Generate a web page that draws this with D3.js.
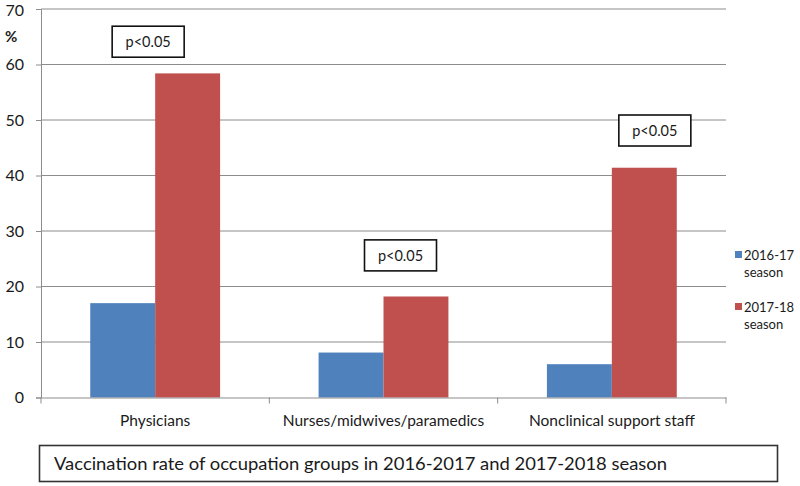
<!DOCTYPE html>
<html>
<head>
<meta charset="utf-8">
<script src="https://cdn.jsdelivr.net/npm/d3@7"></script>
<style>
  body { margin: 0; background: #fff; }
  text { font-family: Lato, "Open Sans", sans-serif; fill: #1a1a1a; }
</style>
</head>
<body>
<svg id="chart" width="800" height="486"></svg>
<script>
// data
const categories = ["Physicians", "Nurses/midwives/paramedics", "Nonclinical support staff"];
const seasons = ["2016-17 season", "2017-18 season"];
const values1617 = [17.0, 8.1, 6.0];
const values1718 = [58.4, 18.2, 41.4];
const yTicks = [0, 10, 20, 30, 40, 50, 60, 70];
const pLabels = ["p<0.05", "p<0.05", "p<0.05"];
// top of each p box, in data units
const pLevels = [66.9, 28.4, 50.9];
// box left relative to the red bar's left edge
const pShift = [-43, -19, 7];

const colors = ["#4F81BD", "#C0504D"];

const svg = d3.select("#chart");
const plotLeft = 41, plotRight = 726, plotTop = 9, plotBottom = 397.5;

const x = d3.scaleBand().domain(categories).range([plotLeft, plotRight]).paddingInner(0).paddingOuter(0);
const x1 = d3.scaleBand().domain(seasons).range([0, x.bandwidth()]).paddingInner(0).paddingOuter(0.7585);
const y = d3.scaleLinear().domain([0, 70]).range([plotBottom, plotTop]);

// gridlines
svg.append("g")
  .selectAll("line")
  .data(yTicks.filter(d => d > 0))
  .enter().append("line")
  .attr("x1", plotLeft).attr("x2", plotRight)
  .attr("y1", d => y(d)).attr("y2", d => y(d))
  .attr("stroke", "#8c8c8c").attr("stroke-width", 1);

// y axis
const yAxis = svg.append("g")
  .attr("transform", `translate(${plotLeft},0)`)
  .call(d3.axisLeft(y).tickValues(yTicks).tickSize(5).tickPadding(12));
yAxis.select(".domain").attr("stroke", "#8c8c8c");
yAxis.selectAll(".tick line").attr("stroke", "#8c8c8c");
yAxis.selectAll(".tick text")
  .style("font-size", "16px").attr("fill", "#1a1a1a")
  .style("font-family", "Lato, sans-serif");
yAxis.selectAll(".tick").filter(d => d === 70).select("text").attr("dy", "0.42em");

svg.append("text")
  .attr("x", 5).attr("y", 42)
  .style("font-size", "15px").style("font-weight", "bold")
  .text("%");

// bars
const groups = svg.append("g")
  .selectAll("g")
  .data(categories.map((c, i) => ({ c, v: [values1617[i], values1718[i]] })))
  .enter().append("g")
  .attr("transform", d => `translate(${x(d.c)},0)`);

groups.selectAll("rect")
  .data(d => d.v.map((v, j) => ({ s: seasons[j], v, j })))
  .enter().append("rect")
  .attr("x", d => x1(d.s))
  .attr("width", x1.bandwidth())
  .attr("y", d => y(d.v))
  .attr("height", d => plotBottom - y(d.v))
  .attr("fill", d => colors[d.j]);

// x axis
const xAxis = svg.append("g")
  .attr("transform", `translate(0,${plotBottom})`)
  .call(d3.axisBottom(x).tickSize(0).tickPadding(17));
xAxis.select(".domain").attr("stroke", "#8c8c8c");
xAxis.selectAll(".tick text")
  .style("font-size", "15.5px").attr("fill", "#1a1a1a")
  .style("font-family", "Lato, sans-serif");
// separator ticks between categories
svg.append("g")
  .selectAll("line")
  .data(d3.range(categories.length + 1))
  .enter().append("line")
  .attr("x1", i => plotLeft + i * x.step()).attr("x2", i => plotLeft + i * x.step())
  .attr("y1", plotBottom).attr("y2", plotBottom + 6)
  .attr("stroke", "#8c8c8c");

// p-value boxes
const pb = svg.append("g")
  .selectAll("g")
  .data(categories.map((c, i) => ({ c, t: pLabels[i], lv: pLevels[i], i })))
  .enter().append("g")
  .attr("transform", d => `translate(${x(d.c) + x1(seasons[1]) + pShift[d.i]},${y(d.lv)})`);
pb.append("rect")
  .attr("x", 0).attr("y", 0).attr("width", 72).attr("height", 31)
  .attr("fill", "#fff").attr("stroke", "#111").attr("stroke-width", 1.6);
pb.append("text")
  .attr("x", 36).attr("y", 21).attr("text-anchor", "middle")
  .style("font-size", "14.5px")
  .text(d => d.t);

// legend
const lg = svg.append("g")
  .selectAll("g")
  .data(seasons)
  .enter().append("g")
  .attr("transform", (d, i) => `translate(735,${251 + i * 52})`);
lg.append("rect")
  .attr("x", 0).attr("y", 0).attr("width", 7).attr("height", 7)
  .attr("fill", (d, i) => colors[i]);
lg.append("text")
  .attr("x", 9).attr("y", 9)
  .style("font-size", "13px")
  .text(d => d.split(" ")[0]);
lg.append("text")
  .attr("x", 9).attr("y", 26)
  .style("font-size", "13px")
  .text(d => d.split(" ")[1]);

// caption box
svg.append("rect")
  .attr("x", 39.5).attr("y", 445.5).attr("width", 738).attr("height", 36)
  .attr("fill", "#fff").attr("stroke", "#333").attr("stroke-width", 1.6);
svg.append("text")
  .attr("x", 54).attr("y", 470)
  .attr("textLength", 613).attr("lengthAdjust", "spacingAndGlyphs")
  .style("font-size", "17.5px")
  .text("Vaccination rate of occupation groups in 2016-2017 and 2017-2018 season");
</script>
</body>
</html>
